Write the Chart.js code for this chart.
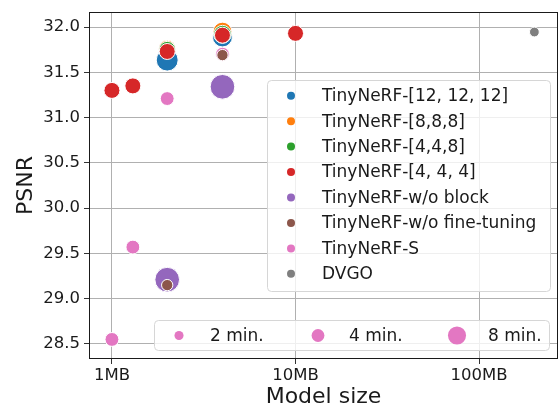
<!DOCTYPE html>
<html>
<head>
<meta charset="utf-8">
<script src="https://cdn.jsdelivr.net/npm/chart.js@4.4.1/dist/chart.umd.min.js"></script>
<style>
  html, body { margin: 0; padding: 0; background: #fff; }
</style>
</head>
<body>
<canvas id="c" width="559" height="408"></canvas>
<script>
// series names and colours (tab10)
const seriesNames = ['TinyNeRF-[12, 12, 12]', 'TinyNeRF-[8,8,8]', 'TinyNeRF-[4,4,8]', 'TinyNeRF-[4, 4, 4]',
  'TinyNeRF-w/o block', 'TinyNeRF-w/o fine-tuning', 'TinyNeRF-S', 'DVGO'];
const seriesColors = ['#1f77b4', '#ff7f0e', '#2ca02c', '#d62728', '#9467bd', '#8c564b', '#e377c2', '#7f7f7f'];

// model size in MB, PSNR, training time in minutes
const sizeMB = [
  [2, 4],
  [2, 4],
  [2, 4],
  [1, 1.3, 2, 4, 10],
  [2, 4],
  [2, 4],
  [1, 1.3, 2, 4],
  [200]
];
const psnr = [
  [31.635, 31.89],
  [31.76, 31.95],
  [31.75, 31.92],
  [31.30, 31.35, 31.73, 31.91, 31.93],
  [29.21, 31.34],
  [29.15, 31.69],
  [28.55, 29.57, 31.21, 31.70],
  [31.945]
];
const minutes = [
  [7.5, 6.2],
  [4.5, 5.5],
  [4.3, 5],
  [4, 4, 4, 4, 4],
  [9.5, 9.5],
  [2, 2],
  [3, 3, 3, 3],
  [1.5]
];
// drawing order (higher = further back)
const drawOrder = [8, 7, 6, 5, 3, 2, 4, 1];

const yTicks = [28.5, 29.0, 29.5, 30.0, 30.5, 31.0, 31.5, 32.0];
const xTicks = [1, 10, 100];
const xTickLabels = ['1MB', '10MB', '100MB'];
const timeLegend = [2, 4, 8];

const radiusFor = t => 4 * Math.sqrt(t);
const FONT = 'DejaVu Sans';
const INK = '#1a1a1a';

const datasets = seriesNames.map((name, i) => ({
  label: name,
  data: sizeMB[i].map((x, j) => ({ x: x, y: psnr[i][j] })),
  backgroundColor: seriesColors[i],
  borderColor: '#ffffff',
  borderWidth: 1,
  pointRadius: minutes[i].map(radiusFor),
  pointHoverRadius: minutes[i].map(radiusFor),
  order: drawOrder[i]
}));

function roundRect(ctx, x, y, w, h, r) {
  ctx.beginPath();
  ctx.moveTo(x + r, y);
  ctx.lineTo(x + w - r, y);
  ctx.quadraticCurveTo(x + w, y, x + w, y + r);
  ctx.lineTo(x + w, y + h - r);
  ctx.quadraticCurveTo(x + w, y + h, x + w - r, y + h);
  ctx.lineTo(x + r, y + h);
  ctx.quadraticCurveTo(x, y + h, x, y + h - r);
  ctx.lineTo(x, y + r);
  ctx.quadraticCurveTo(x, y, x + r, y);
  ctx.closePath();
}

const decorations = {
  id: 'decorations',
  afterDraw(chart) {
    const ctx = chart.ctx;
    const a = chart.chartArea;
    const xs = chart.scales.x;
    ctx.save();
    // frame
    ctx.strokeStyle = INK;
    ctx.lineWidth = 1;
    ctx.strokeRect(a.left + 0.5, a.top + 0.5, a.right - a.left - 1, a.bottom - a.top - 1);

    // x tick labels
    ctx.fillStyle = INK;
    ctx.font = '16.5px "' + FONT + '"';
    ctx.textAlign = 'center';
    ctx.textBaseline = 'middle';
    xTicks.forEach((v, i) => ctx.fillText(xTickLabels[i], xs.getPixelForValue(v), a.bottom + 17));

    // axis titles
    ctx.font = '22px "' + FONT + '"';
    ctx.fillText('Model size', (a.left + a.right) / 2, 397);
    ctx.save();
    ctx.translate(26, (a.top + a.bottom) / 2);
    ctx.rotate(-Math.PI / 2);
    ctx.fillText('PSNR', 0, 0);
    ctx.restore();

    // series legend
    ctx.globalAlpha = 0.8;
    ctx.fillStyle = '#ffffff';
    roundRect(ctx, 267.5, 80.5, 283, 211, 4);
    ctx.fill();
    ctx.globalAlpha = 1;
    ctx.strokeStyle = '#d6d6d6';
    ctx.stroke();
    ctx.font = '17px "' + FONT + '"';
    ctx.textAlign = 'left';
    seriesNames.forEach((name, i) => {
      const y = 95.7 + i * 25.45;
      ctx.beginPath();
      ctx.arc(291, y, 4, 0, Math.PI * 2);
      ctx.fillStyle = seriesColors[i];
      ctx.fill();
      ctx.fillStyle = INK;
      ctx.fillText(name, 322, y + 1);
    });

    // time legend
    ctx.globalAlpha = 0.8;
    ctx.fillStyle = '#ffffff';
    roundRect(ctx, 154.5, 320.5, 395, 30, 4);
    ctx.fill();
    ctx.globalAlpha = 1;
    ctx.strokeStyle = '#d6d6d6';
    ctx.stroke();
    const dotX = [179, 318, 457];
    const textX = [210, 349, 488];
    timeLegend.forEach((t, i) => {
      ctx.beginPath();
      ctx.arc(dotX[i], 335.5, 3.2 * Math.sqrt(t), 0, Math.PI * 2);
      ctx.fillStyle = seriesColors[6];
      ctx.fill();
      ctx.fillStyle = INK;
      ctx.fillText(t + ' min.', textX[i], 336.5);
    });
    ctx.restore();
  }
};

new Chart(document.getElementById('c'), {
  type: 'scatter',
  data: { datasets: datasets },
  plugins: [decorations],
  options: {
    responsive: false,
    animation: false,
    devicePixelRatio: 1,
    // big bubbles would otherwise add auto padding round the plot
    layout: { autoPadding: false, padding: { top: 12, right: 1, left: 0, bottom: 0 } },
    plugins: {
      legend: { display: false },
      tooltip: { enabled: false }
    },
    scales: {
      x: {
        type: 'logarithmic',
        min: 0.75,
        max: 269,
        afterBuildTicks: axis => { axis.ticks = xTicks.map(v => ({ value: v })); },
        afterFit: axis => { axis.height = 49; },
        grid: { color: '#b0b0b0', lineWidth: 1, tickLength: 5, tickColor: '#333' },
        border: { display: false },
        ticks: { display: false }
      },
      y: {
        type: 'linear',
        min: 28.334,
        max: 32.166,
        afterBuildTicks: axis => { axis.ticks = yTicks.map(v => ({ value: v })); },
        afterFit: axis => { axis.width = 89; axis.paddingTop = 0; axis.paddingBottom = 0; },
        grid: { color: '#b0b0b0', lineWidth: 1, tickLength: 5, tickColor: '#333' },
        border: { display: false },
        ticks: {
          padding: 4,
          color: INK,
          font: { family: FONT, size: 16.5 },
          callback: v => v.toFixed(1)
        }
      }
    }
  }
});
</script>
</body>
</html>
